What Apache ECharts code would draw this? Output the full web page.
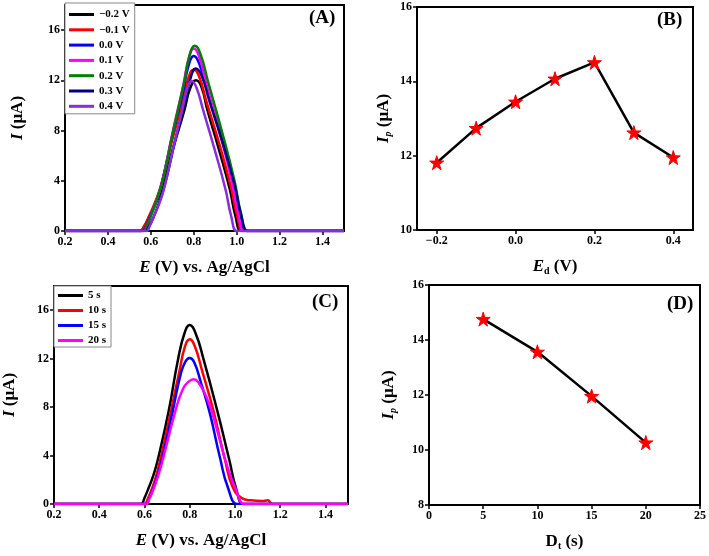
<!DOCTYPE html>
<html>
<head>
<meta charset="utf-8">
<script src="https://cdn.jsdelivr.net/npm/echarts@6/dist/echarts.min.js"></script>
<style>html,body{margin:0;padding:0;background:#fff;}#c{width:709px;height:556px;}</style>
</head>
<body>
<div id="c"></div>
<script>
// ---------- Panel A: DPV curves at different deposition potentials ----------
const A_names = ['\u22120.2 V', '\u22120.1 V', '0.0 V', '0.1 V', '0.2 V', '0.3 V', '0.4 V'];
const A_m02 = [[0.2,0],[0.53,0],[0.55,0],[0.57,0.4],[0.588,1.0],[0.62,2.1],[0.649,3.3],[0.702,6.5],[0.756,9.6],[0.782,11.3],[0.81,12.0],[0.835,11.5],[0.864,9.6],[0.917,6.5],[0.968,3.3],[0.994,1.2],[1.02,0],[1.04,0],[1.5,0]];
const A_m01 = [[0.2,0],[0.53,0],[0.55,0],[0.57,0.4],[0.587,1.0],[0.615,2.1],[0.645,3.5],[0.696,7.0],[0.748,10.3],[0.775,12.2],[0.80,12.87],[0.825,12.3],[0.859,10.3],[0.918,7.0],[0.973,3.5],[1.001,1.3],[1.03,0],[1.05,0],[1.5,0]];
const A_p00 = [[0.2,0],[0.54,0],[0.56,0],[0.578,0.4],[0.595,1.1],[0.623,2.3],[0.651,3.8],[0.70,7.6],[0.75,11.1],[0.776,13.2],[0.80,13.93],[0.826,13.3],[0.864,11.1],[0.927,7.6],[0.987,3.8],[1.017,1.4],[1.045,0],[1.065,0],[1.5,0]];
const A_p01 = [[0.2,0],[0.545,0],[0.565,0],[0.582,0.45],[0.60,1.2],[0.627,2.5],[0.654,4.0],[0.702,7.9],[0.751,11.6],[0.777,13.8],[0.80,14.54],[0.825,13.9],[0.86,11.6],[0.92,7.9],[0.977,4.0],[1.006,1.45],[1.035,0],[1.055,0],[1.5,0]];
const A_p02 = [[0.2,0],[0.545,0],[0.565,0],[0.582,0.45],[0.60,1.2],[0.628,2.5],[0.656,4.06],[0.705,8.0],[0.755,11.8],[0.781,14.0],[0.805,14.75],[0.831,14.1],[0.868,11.8],[0.93,8.0],[0.989,4.06],[1.019,1.5],[1.05,0],[1.07,0],[1.5,0]];
const A_p03 = [[0.2,0],[0.555,0],[0.575,0],[0.592,0.4],[0.61,1.0],[0.637,2.2],[0.664,3.6],[0.712,7.1],[0.761,10.4],[0.787,12.3],[0.81,12.95],[0.836,12.4],[0.872,10.4],[0.933,7.1],[0.991,3.6],[1.02,1.3],[1.05,0],[1.07,0],[1.5,0]];
const A_p04 = [[0.2,0],[0.56,0],[0.58,0],[0.595,0.4],[0.61,1.0],[0.635,2.0],[0.66,3.3],[0.703,6.5],[0.746,9.6],[0.769,11.3],[0.79,11.94],[0.813,11.4],[0.844,9.6],[0.897,6.5],[0.948,3.3],[0.974,1.2],[1.0,0],[1.02,0],[1.5,0]];
const A_series = [A_m02, A_m01, A_p00, A_p01, A_p02, A_p03, A_p04];
const A_xticks = [0.2, 0.4, 0.6, 0.8, 1.0, 1.2, 1.4];
const A_yticks = [0, 4, 8, 12, 16];

// ---------- Panel B: peak current vs deposition potential ----------
const B_x = [-0.2, -0.1, 0.0, 0.1, 0.2, 0.3, 0.4];
const B_y = [11.81, 12.74, 13.45, 14.07, 14.51, 12.62, 11.95];
const B_xticks = [-0.2, 0.0, 0.2, 0.4];

// ---------- Panel C: DPV curves at different deposition times ----------
const C_names = ['5 s', '10 s', '15 s', '20 s'];
const C_5s = [[0.2,0],[0.565,0],[0.585,0],[0.60,0.5],[0.62,1.4],[0.64,2.4],[0.659,3.65],[0.708,7.77],[0.748,11.9],[0.777,14.1],[0.80,14.77],[0.826,14.1],[0.862,11.9],[0.921,7.77],[0.975,3.65],[1.005,1.3],[1.037,0],[1.06,0],[1.5,0]];
const C_10s = [[0.2,0],[0.58,0],[0.60,0],[0.615,0.45],[0.632,1.2],[0.65,2.2],[0.67,3.65],[0.718,7.77],[0.755,11.0],[0.779,13.0],[0.80,13.6],[0.823,13.0],[0.855,11.0],[0.904,7.77],[0.956,3.65],[0.99,1.4],[1.03,0.5],[1.07,0.3],[1.12,0.25],[1.145,0.3],[1.165,0],[1.19,0],[1.5,0]];
const C_15s = [[0.2,0],[0.587,0],[0.607,0],[0.62,0.4],[0.637,1.2],[0.657,2.3],[0.677,3.65],[0.726,7.77],[0.76,10.7],[0.781,11.75],[0.80,12.05],[0.82,11.7],[0.85,10.0],[0.889,7.5],[0.933,3.9],[0.97,1.3],[1.01,0],[1.03,0],[1.5,0]];
const C_20s = [[0.2,0],[0.587,0],[0.607,0],[0.62,0.4],[0.637,1.1],[0.66,2.3],[0.681,3.65],[0.738,7.77],[0.77,9.5],[0.795,10.1],[0.818,10.3],[0.84,10.0],[0.87,9.0],[0.90,7.5],[0.93,5.5],[0.96,3.5],[1.0,1.4],[1.044,0],[1.07,0],[1.5,0]];
const C_series = [C_5s, C_10s, C_15s, C_20s];

// ---------- Panel D: peak current vs deposition time ----------
const D_x = [5, 10, 15, 20];
const D_y = [14.76, 13.57, 11.96, 10.27];

const A_colors = ['#000000', '#ff0000', '#0000ff', '#ff00ff', '#008000', '#000080', '#8a2be2'];
const C_colors = ['#000000', '#ff0000', '#0000ff', '#ff00ff'];
const FONT = '"Liberation Serif", "DejaVu Serif", serif';
const STAR = 'path://M50,0 L61.2,34.5 L97.6,34.5 L68.2,55.9 L79.4,90.5 L50,69.1 L20.6,90.5 L31.8,55.9 L2.4,34.5 L38.8,34.5 Z';

const chart = echarts.init(document.getElementById('c'), null, {renderer: 'canvas'});

const lbl = {color: '#000', fontFamily: FONT, fontWeight: 'bold', fontSize: 12, margin: 5};
const tick = {show: true, length: 4, lineStyle: {color: '#000', width: 1.5}};
const line = {show: true, onZero: false, lineStyle: {color: '#000', width: 2}};
const nameStyle = {color: '#000', fontFamily: FONT, fontWeight: 'bold', fontSize: 17,
  rich: {
    i: {fontFamily: FONT, fontStyle: 'italic', fontWeight: 'bold', fontSize: 17, color: '#000'},
    s: {fontFamily: FONT, fontStyle: 'italic', fontWeight: 'bold', fontSize: 10, color: '#000', verticalAlign: 'bottom', padding: [8, 0, 0, 0]},
    u: {fontFamily: FONT, fontWeight: 'bold', fontSize: 10, color: '#000', verticalAlign: 'bottom', padding: [8, 0, 0, 0]}
  }
};
const fmt1 = v => (v < 0 ? '\u2212' : '') + Math.abs(v).toFixed(1);

const grids = [
  {left: 65, top: 5, width: 279, height: 226},
  {left: 417, top: 7, width: 276, height: 223},
  {left: 54, top: 286, width: 294, height: 218},
  {left: 429, top: 285, width: 273, height: 220}
].map(g => Object.assign(g, {show: true, borderColor: '#000', borderWidth: 2, containLabel: false}));

const xAxes = [
  {gridIndex: 0, type: 'value', min: 0.2, max: 1.5, splitLine: {show: false},
   axisLine: line, axisTick: Object.assign({customValues: A_xticks}, tick),
   axisLabel: Object.assign({customValues: A_xticks, formatter: fmt1}, lbl),
   name: '{i|E} (V) vs. Ag/AgCl', nameLocation: 'middle', nameGap: 28, nameTextStyle: nameStyle},
  {gridIndex: 1, type: 'value', min: -0.25, max: 0.45, splitLine: {show: false},
   axisLine: line, axisTick: Object.assign({customValues: B_xticks}, tick),
   axisLabel: Object.assign({customValues: B_xticks, formatter: fmt1}, lbl),
   name: '{i|E}{u|d} (V)', nameLocation: 'middle', nameGap: 28, nameTextStyle: nameStyle},
  {gridIndex: 2, type: 'value', min: 0.2, max: 1.5, splitLine: {show: false},
   axisLine: line, axisTick: Object.assign({customValues: A_xticks}, tick),
   axisLabel: Object.assign({customValues: A_xticks, formatter: fmt1}, lbl),
   name: '{i|E} (V) vs. Ag/AgCl', nameLocation: 'middle', nameGap: 28, nameTextStyle: nameStyle},
  {gridIndex: 3, type: 'value', min: 0, max: 25, interval: 5, splitLine: {show: false},
   axisLine: line, axisTick: tick, axisLabel: lbl,
   name: 'D{u|t} (s)', nameLocation: 'middle', nameGap: 28, nameTextStyle: nameStyle}
];
const yAxes = [
  {gridIndex: 0, type: 'value', min: 0, max: 18, splitLine: {show: false},
   axisLine: line, axisTick: Object.assign({customValues: A_yticks}, tick),
   axisLabel: Object.assign({customValues: A_yticks}, lbl),
   name: '{i|I} (\u03bcA)', nameLocation: 'middle', nameGap: 39, nameTextStyle: nameStyle},
  {gridIndex: 1, type: 'value', min: 10, max: 16, interval: 2, splitLine: {show: false},
   axisLine: line, axisTick: tick, axisLabel: lbl,
   name: '{i|I}{s|p} (\u03bcA)', nameLocation: 'middle', nameGap: 24, nameTextStyle: nameStyle},
  {gridIndex: 2, type: 'value', min: 0, max: 18, splitLine: {show: false},
   axisLine: line, axisTick: Object.assign({customValues: A_yticks}, tick),
   axisLabel: Object.assign({customValues: A_yticks}, lbl),
   name: '{i|I} (\u03bcA)', nameLocation: 'middle', nameGap: 36, nameTextStyle: nameStyle},
  {gridIndex: 3, type: 'value', min: 8, max: 16, interval: 2, splitLine: {show: false},
   axisLine: line, axisTick: tick, axisLabel: lbl,
   name: '{i|I}{s|p} (\u03bcA)', nameLocation: 'middle', nameGap: 31, nameTextStyle: nameStyle}
];

const series = [];
A_series.forEach((d, i) => series.push({
  type: 'line', name: A_names[i], xAxisIndex: 0, yAxisIndex: 0, data: d,
  smooth: 0.5, symbol: 'none', lineStyle: {color: A_colors[i], width: 2.5}, itemStyle: {color: A_colors[i]}
}));
C_series.forEach((d, i) => series.push({
  type: 'line', name: C_names[i], xAxisIndex: 2, yAxisIndex: 2, data: d,
  smooth: 0.5, symbol: 'none', lineStyle: {color: C_colors[i], width: 2.5}, itemStyle: {color: C_colors[i]}
}));
series.push({
  type: 'line', xAxisIndex: 1, yAxisIndex: 1, data: B_x.map((x, i) => [x, B_y[i]]),
  symbol: STAR, symbolSize: 14, lineStyle: {color: '#000', width: 2.5},
  itemStyle: {color: '#ff0000', borderColor: '#ff0000'}, z: 3
});
series.push({
  type: 'line', xAxisIndex: 3, yAxisIndex: 3, data: D_x.map((x, i) => [x, D_y[i]]),
  symbol: STAR, symbolSize: 14, lineStyle: {color: '#000', width: 2.5},
  itemStyle: {color: '#ff0000', borderColor: '#ff0000'}, z: 3
});

const legendText = {color: '#000', fontFamily: FONT, fontWeight: 'bold', fontSize: 11};
const panelTitle = (t, left, top) => ({text: t, left: left, top: top, padding: 0,
  textStyle: {color: '#000', fontFamily: FONT, fontWeight: 'bold', fontSize: 19}});

chart.setOption({
  animation: false,
  backgroundColor: '#fff',
  title: [panelTitle('(A)', 309, 9), panelTitle('(B)', 657, 11), panelTitle('(C)', 312, 293), panelTitle('(D)', 667, 295)],
  legend: [
    {data: A_names, orient: 'vertical', left: 65, top: 3, icon: 'rect', itemWidth: 25, itemHeight: 3, itemGap: 4.3,
     padding: [6, 5, 2, 4], borderColor: '#888', borderWidth: 1, backgroundColor: '#fff',
     textStyle: legendText, selectedMode: false},
    {data: C_names, orient: 'vertical', left: 54, top: 286, icon: 'rect', itemWidth: 25, itemHeight: 3, itemGap: 4,
     padding: [4, 5, 1, 4], borderColor: '#888', borderWidth: 1, backgroundColor: '#fff',
     textStyle: legendText, selectedMode: false}
  ],
  grid: grids,
  xAxis: xAxes,
  yAxis: yAxes,
  series: series
});
</script>
</body>
</html>
